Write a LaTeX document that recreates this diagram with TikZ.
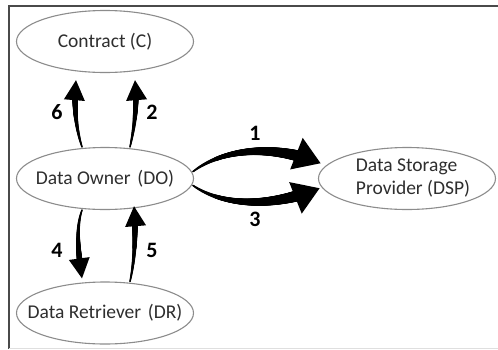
\documentclass[tikz,border=0pt]{standalone}
\usepackage{fontspec}
\setmainfont{Carlito}
\usetikzlibrary{shapes.geometric,decorations.markings}

\definecolor{inkgray}{HTML}{2E2E2E}
\definecolor{rimgray}{HTML}{8C8C8C}
\definecolor{framegray}{HTML}{4A4A4A}

\tikzset{
  party/.style={ellipse, draw=rimgray, line width=1.1pt,
    inner xsep=-25pt, inner ysep=-10pt,
    minimum width=177pt, minimum height=62pt, text=inkgray,
    font=\fontsize{19.5}{23}\selectfont},
  steplabel/.style={font=\fontsize{22}{24}\selectfont\bfseries, text=black},
  % tapered arrow: start half-width, end half-width, head length, head half-width
  flow/.style n args={4}{
    postaction={decorate, decoration={markings,
      mark=between positions 0 and -#3 step 0.4pt with {
        \pgfmathsetmacro\halfw{#1+(#2-#1)*\pgfkeysvalueof{/pgf/decoration/mark info/distance from start}/(\pgfdecoratedpathlength-#3)}
        \fill[black] (0pt,0pt) circle[radius=\halfw pt];},
      mark=at position -1pt with {\fill[black] (1pt,0pt) -- (-#3,#4) -- (-#3,-#4) -- cycle;}
    }}
  }
}

\begin{document}
\begin{tikzpicture}[x=1pt, y=-1pt]
  \useasboundingbox (0,0) rectangle (498,349);
  \fill[white] (0,0) rectangle (498,349);

  % frame
  \draw[framegray, line width=2.4pt] (498,6) -- (9,6) -- (9,349);
  \draw[gray!25, line width=1pt] (9,348.5) -- (498,348.5);

  % parties
  \node[party] (c)   at (105,41.5)  {Contract (C)};
  \node[party] (do)  at (105,178.5) {Data Owner\hspace{0.12em} (DO)};
  \node[party] (dr)  at (105,313)   {Data Retriever\hspace{0.12em} (DR)};
  \node[party, align=left] (dsp) at (407,178.5) {\hspace*{12pt}Data Storage\\\hspace*{12pt}Provider (DSP)};

  % end points of the arrows
  \coordinate (c6) at ([shift={(-29,7)}]c.south);
  \coordinate (c2) at ([shift={(30,7)}]c.south);
  \coordinate (dr4) at ([shift={(-23,-3)}]dr.north);
  \coordinate (do5) at ([shift={(29,-4)}]do.south);
  \coordinate (do1) at ([shift={(-1,-7)}]do.east);
  \coordinate (do3) at ([shift={(-1,7)}]do.east);
  \coordinate (dsp1) at ([shift={(2,-15.5)}]dsp.west);
  \coordinate (dsp3) at ([shift={(1,10)}]dsp.west);

  % arrows between parties
  \path[flow={0.8}{2.8}{19pt}{10.5pt}] ([xshift=-23pt]do.north) .. controls +(-7,-22) and +(-2,24) .. (c6);
  \path[flow={0.8}{2.8}{19pt}{10.5pt}] ([xshift=25pt]do.north) .. controls +(5,-22) and +(2,24) .. (c2);
  \path[flow={0.8}{2.8}{19pt}{10.5pt}] ([xshift=-23pt]do.south) .. controls +(-7,20) and +(-3,-22) .. (dr4);
  \path[flow={0.8}{2.8}{19pt}{10.5pt}] ([xshift=25pt]dr.north) .. controls +(5,-22) and +(2,24) .. (do5);
  \path[flow={0.9}{5.5}{25pt}{17pt}] (do1) .. controls +(32,-24) and +(-45,-18) .. (dsp1);
  \path[flow={0.9}{5.5}{25pt}{17pt}] (do3) .. controls +(32,22) and +(-45,18) .. (dsp3);

  % step numbers
  \node[steplabel] (n6) at (57,112) {6};
  \node[steplabel] (n2) at (152,112) {2};
  \node[steplabel] (n4) at (57,250) {4};
  \node[steplabel] (n5) at (152,250) {5};
  \node[steplabel] (n1) at (255,133) {1};
  \node[steplabel] (n3) at (255,219) {3};
\end{tikzpicture}
\end{document}
